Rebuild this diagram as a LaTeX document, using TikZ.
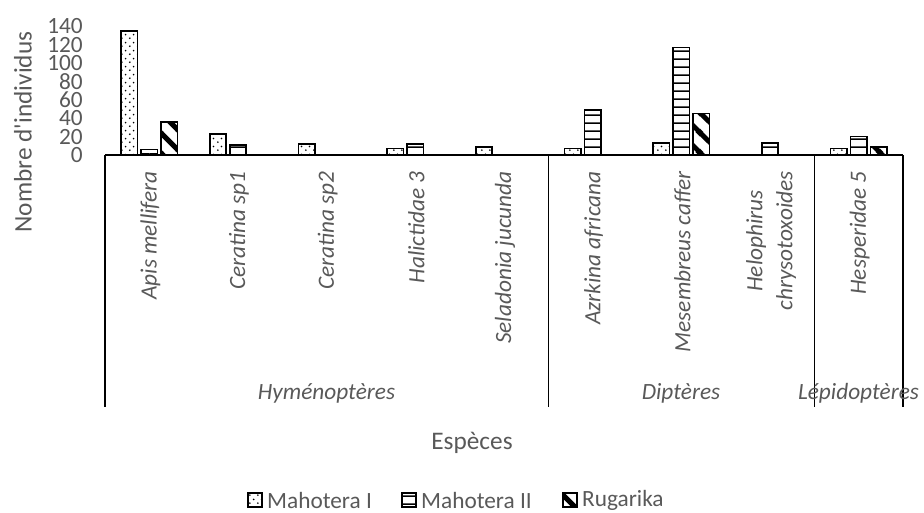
\documentclass[tikz,border=0pt]{standalone}
\usepackage{fontspec}
\setmainfont{Carlito}
\usetikzlibrary{patterns.meta}
\definecolor{txt}{HTML}{595959}
\pgfdeclarepattern{name=sparsedots, type=uncolored,
  bottom left={\pgfpoint{0pt}{0pt}}, top right={\pgfpoint{8pt}{8pt}},
  tile size={\pgfpoint{8pt}{8pt}},
  code={\pgfpathcircle{\pgfpoint{2pt}{2pt}}{1pt}
        \pgfpathcircle{\pgfpoint{6pt}{6pt}}{1pt}
        \pgfusepath{fill}}}
\pgfdeclarepattern{name=hlines, type=uncolored,
  bottom left={\pgfpoint{0pt}{0pt}}, top right={\pgfpoint{8.3pt}{8.3pt}},
  tile size={\pgfpoint{8.3pt}{8.3pt}},
  code={\pgfsetlinewidth{1.6pt}
        \pgfpathmoveto{\pgfpoint{-1pt}{1pt}}\pgfpathlineto{\pgfpoint{9.3pt}{1pt}}
        \pgfusepath{stroke}}}
\pgfdeclarepattern{name=wdiag, type=uncolored,
  bottom left={\pgfpoint{0pt}{0pt}}, top right={\pgfpoint{20pt}{20pt}},
  tile size={\pgfpoint{20pt}{20pt}},
  code={\pgfsetlinewidth{5pt}
        \pgfpathmoveto{\pgfpoint{-2pt}{22pt}}\pgfpathlineto{\pgfpoint{22pt}{-2pt}}
        \pgfpathmoveto{\pgfpoint{-12pt}{12pt}}\pgfpathlineto{\pgfpoint{12pt}{-12pt}}
        \pgfpathmoveto{\pgfpoint{8pt}{32pt}}\pgfpathlineto{\pgfpoint{32pt}{8pt}}
        \pgfusepath{stroke}}}
\tikzset{
  lbl/.style={text=txt, font=\fontsize{23.3}{28}\selectfont, inner sep=0pt},
  cat/.style={lbl, font=\fontsize{23.3}{30}\selectfont\itshape, rotate=90, anchor=east, align=center},
  grp/.style={lbl, font=\fontsize{23.3}{28}\selectfont\itshape},
  ttl/.style={text=txt, font=\fontsize{25.3}{30}\selectfont, inner sep=0pt},
  axisline/.style={draw=black, line width=1.6pt},
  sepline/.style={draw=black, line width=1.2pt},
  barA/.style={draw=black, line width=1.6pt, pattern={sparsedots}, pattern color=black},
  barB/.style={draw=black, line width=1.6pt, pattern={hlines}, pattern color=black},
  barC/.style={draw=black, line width=1.6pt, pattern={wdiag}, pattern color=black},
}
\begin{document}
\begin{tikzpicture}[x=1pt,y=1pt]
\useasboundingbox (0,0) rectangle (924,-512);
\def\ys{0.92}
% bars: index / M1 / M2 / R
\foreach \i/\a/\b/\c in {1/135/6/36, 2/23/11/0, 3/12/0/0, 4/7/12/0, 5/9/0/0,
                         6/7/49/0, 7/13/117/45, 8/0/13/0, 9/7/20/9}{
  \pgfmathsetmacro{\cx}{60.67+88.67*\i}
  \ifnum\a>0 \draw[barA] (\cx-28.25,-155) rectangle (\cx-11.75,-155+\a*\ys); \fi
  \ifnum\b>0 \draw[barB] (\cx-8.25,-155) rectangle (\cx+8.25,-155+\b*\ys); \fi
  \ifnum\c>0 \draw[barC] (\cx+11.75,-155) rectangle (\cx+28.25,-155+\c*\ys); \fi
}
% axis and group separators
\coordinate (o) at (105,-155);
\coordinate (e) at (903,-155);
\draw[axisline] (o) -- (e);
\foreach \x in {105,548.3,814.3,903}{
  \draw[sepline] (\x,-155) -- (\x,-407);
}
% tick labels
\foreach \v in {0,20,...,140}{
  \node[lbl, anchor=east] (t\v) at (83,-155+\v*\ys) {\v};
}
% category labels
\foreach \i/\t in {1/Apis mellifera, 2/Ceratina sp1, 3/Ceratina sp2, 4/Halictidae 3,
                   5/Seladonia jucunda, 6/Azrkina africana, 7/Mesembreus caffer,
                   8/{Helophirus\\chrysotoxoides}, 9/Hesperidae 5}{
  \pgfmathsetmacro{\cx}{60.67+88.67*\i}
  \node[cat] (c\i) at (\cx+1,-171) {\t};
}
% group labels
\node[grp] (g1) at (326.5,-393) {Hyménoptères};
\node[grp] (g2) at (681,-393) {Diptères};
\node[grp] (g3) at (858.5,-393) {Lépidoptères};
% axis titles
\node[ttl] (xt) at (472,-443) {Espèces};
\node[ttl, rotate=90] (yt) at (23,-132) {Nombre d\textquotesingle individus};
% legend
\draw[barA, line width=1.3pt] (248,-493) rectangle (262,-507);
\node[lbl, anchor=west] (l1) at (267,-500) {Mahotera I};
\draw[barB, line width=1.3pt] (402,-493) rectangle (416,-507);
\node[lbl, anchor=west] (l2) at (421,-500) {Mahotera II};
\draw[barC, line width=1.3pt] (563,-493) rectangle (577,-507);
\node[lbl, anchor=west] (l3) at (582,-500) {Rugarika};
\end{tikzpicture}
\end{document}
